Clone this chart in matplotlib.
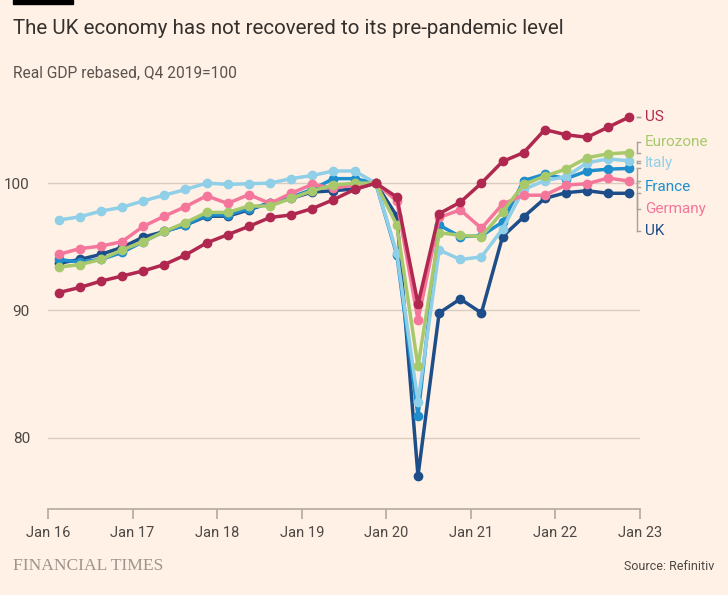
import numpy as np
import pandas as pd
import matplotlib
matplotlib.use("Agg")
import matplotlib.pyplot as plt

# quarterly real GDP, Q4 2019 = 100
quarters = pd.period_range("2016Q1", "2022Q4", freq="Q")

us = [91.4, 91.8, 92.3, 92.7, 93.1, 93.6, 94.35, 95.3, 95.95, 96.6, 97.3, 97.5, 98.0, 98.7,
      99.5, 100.0, 98.9, 90.5, 97.6, 98.5, 100.0, 101.7, 102.4, 104.2, 103.8, 103.6, 104.4, 105.2]
eurozone = [93.4, 93.6, 94.0, 94.75, 95.4, 96.2, 96.9, 97.7, 97.7, 98.2, 98.2, 98.8, 99.4, 99.85,
            100.0, 100.0, 96.7, 85.6, 96.1, 95.9, 95.8, 97.75, 99.9, 100.55, 101.1, 102.0, 102.3, 102.4]
italy = [97.1, 97.35, 97.8, 98.1, 98.6, 99.05, 99.5, 100.0, 99.9, 99.95, 100.0, 100.35, 100.6, 100.95,
         100.95, 100.0, 94.5, 82.8, 94.75, 94.0, 94.2, 96.4, 99.5, 100.2, 100.5, 101.6, 101.9, 101.75]
france = [94.0, 93.8, 94.0, 94.55, 95.4, 96.2, 96.7, 97.5, 97.5, 98.0, 98.4, 98.9, 99.5, 100.35,
          100.35, 100.0, 94.35, 81.7, 96.7, 95.8, 95.85, 96.95, 100.2, 100.7, 100.35, 100.95, 101.1, 101.15]
germany = [94.4, 94.85, 95.05, 95.4, 96.6, 97.4, 98.15, 99.0, 98.4, 99.1, 98.4, 99.2, 99.9, 99.6,
           99.85, 100.0, 98.6, 89.25, 97.3, 97.9, 96.45, 98.35, 99.05, 99.05, 99.85, 99.95, 100.4, 100.15]
uk = [93.7, 94.0, 94.4, 94.95, 95.75, 96.2, 96.7, 97.4, 97.4, 97.9, 98.45, 98.8, 99.3, 99.4,
      99.55, 100.0, 97.4, 77.0, 89.8, 90.9, 89.8, 95.8, 97.35, 98.8, 99.25, 99.4, 99.2, 99.2]

names = ["UK", "France", "Italy", "Germany", "Eurozone", "US"]
series = [uk, france, italy, germany, eurozone, us]
colors = ["#1d4e89", "#1f8ecd", "#90cfe8", "#f5769b", "#a8c96b", "#b0284f"]
# where the right-hand labels sit (value axis)
label_y = {"US": 105.2, "Eurozone": 103.2, "Italy": 101.55, "France": 99.7,
           "Germany": 97.95, "UK": 96.2}

years = np.array([q.year for q in quarters])
qnum = np.array([q.quarter for q in quarters])
x = years + (qnum - 1) / 4 + 0.125

bg = "#fff1e5"
plt.rcParams["font.family"] = ["Roboto", "DejaVu Sans"]

fig = plt.figure(figsize=(7.28, 5.95), dpi=100, facecolor=bg)
ax = fig.add_axes([48 / 728, 1 - 509 / 595, (640 - 48) / 728, (509 - 94) / 595])
ax.set_facecolor(bg)

for name, vals, col, z in zip(names, series, colors, range(1, 7)):
    ax.plot(x, vals, color=col, lw=2.5, marker="o", ms=6, zorder=3 + z,
            solid_joinstyle="round", clip_on=False)

ax.set_xlim(2016, 2023)
ax.set_ylim(74.4, 107)
ax.set_yticks([80, 90, 100])
ax.grid(axis="y", color="#d9cdc2", lw=1)
ax.set_axisbelow(True)
for s in ["top", "right", "left"]:
    ax.spines[s].set_visible(False)
ax.spines["bottom"].set_color("#b3a99f")
ax.spines["bottom"].set_linewidth(1.2)

xt = list(range(2016, 2024))
ax.set_xticks(xt)
ax.set_xticklabels(["Jan %02d" % (y % 100) for y in xt])
ax.tick_params(axis="x", colors="#b3a99f", length=7, width=1.2, pad=5,
               labelcolor="#4d4845", labelsize=10.5)
ax.tick_params(axis="y", length=0, pad=13, labelcolor="#4d4845", labelsize=11)

# right-hand labels with leader lines
xl = 2022.96
for name, vals, col in zip(names, series, colors):
    ly = label_y[name]
    ax.plot([xl, xl], [vals[-1], ly], color="#a8a09a", lw=1, clip_on=False, zorder=2)
    ax.plot([xl, xl + 0.04], [vals[-1], vals[-1]], color="#a8a09a", lw=1, clip_on=False, zorder=2)
    ax.plot([xl, xl + 0.04], [ly, ly], color="#a8a09a", lw=1, clip_on=False, zorder=2)
    ax.text(2023.06, ly, name, color=col, fontsize=11, va="center", ha="left")

# header / footer
fig.patches.append(plt.Rectangle((13 / 728, 1 - 4 / 595), 60 / 728, 4 / 595,
                                 transform=fig.transFigure, color="#000000"))
fig.text(13 / 728, 1 - 28 / 595, "The UK economy has not recovered to its pre-pandemic level",
         fontsize=14.8, color="#33302e", va="center", ha="left")
fig.text(13 / 728, 1 - 73 / 595, "Real GDP rebased, Q4 2019=100",
         fontsize=11.2, color="#5a5350", va="center", ha="left")
fig.text(13 / 728, 1 - 566 / 595, "FINANCIAL TIMES", family="Liberation Serif",
         fontsize=12.6, color="#9e948b", va="center", ha="left")
fig.text(714 / 728, 1 - 567 / 595, "Source: Refinitiv",
         fontsize=9, color="#4d4845", va="center", ha="right")

fig.savefig("out.png", dpi=100, facecolor=bg)
